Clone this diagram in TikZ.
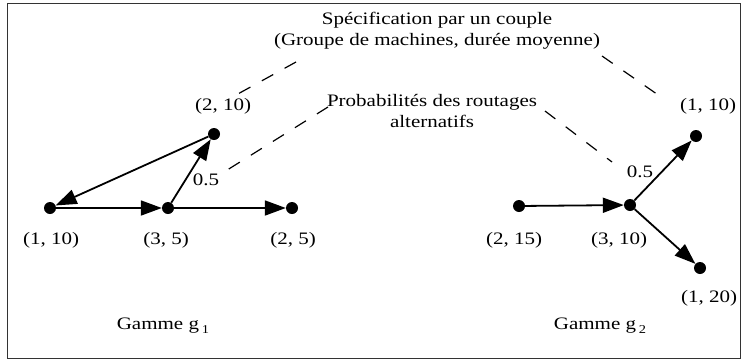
\documentclass[tikz,border=0pt]{standalone}
\usepackage{fontspec}
\setmainfont{Liberation Serif}[FakeStretch=1.2]
\usetikzlibrary{arrows.meta}
\newcommand\lowsub[1]{\,\raisebox{-0.45ex}{\fontsize{12}{12}\selectfont #1}}
\begin{document}
\begin{tikzpicture}[x=1pt,y=-1pt,
  dot/.style={circle,fill=black,inner sep=0pt,minimum size=12pt},
  lbl/.style={font=\fontsize{17.5}{21}\selectfont,inner sep=0pt},
  arr/.style={line width=1.8pt,-{Triangle[length=21pt,width=15pt]}},
  lead/.style={line width=1.2pt,dash pattern=on 13pt off 13pt}]
\useasboundingbox (0,0) rectangle (743,362);
\draw[line width=1pt,black!80] (7,3) rectangle (740,358);
% texts
\node[lbl,align=center] (spec) at (437,31) {Spécification par un couple\\(Groupe de machines, durée moyenne)};
\node[lbl,align=center] (prob) at (432,111) {Probabilités des routages\\alternatifs};
% left graph
\node[dot] (a) at (50,208) {};
\node[dot] (b) at (168,208) {};
\node[dot] (c) at (292,208) {};
\node[dot] (d) at (214,134) {};
\node[lbl] (la) at (51,240) {(1, 10)};
\node[lbl] (lb) at (166,240) {(3, 5)};
\node[lbl] (lc) at (293,240) {(2, 5)};
\node[lbl] (ld) at (223,106) {(2, 10)};
\node[lbl] (pa) at (206,180) {0.5};
\draw[arr] (a) -- (b);
\draw[arr] (b) -- (c);
\draw[arr] (b) -- (d);
\draw[arr] (d) -- (a);
% right graph
\node[dot] (e) at (519,206) {};
\node[dot] (f) at (630,205) {};
\node[dot] (g) at (696,136) {};
\node[dot] (h) at (700,268) {};
\node[lbl] (le) at (514,240) {(2, 15)};
\node[lbl] (lf) at (619,240) {(3, 10)};
\node[lbl] (lg) at (708,106) {(1, 10)};
\node[lbl] (lh) at (709,298) {(1, 20)};
\node[lbl] (pb) at (640,172) {0.5};
\draw[arr] (e) -- (f);
\draw[arr] (f) -- (g);
\draw[arr] (f) -- (h);
% leaders
\coordinate (s1) at (296,62);
\coordinate (s1e) at (236,95);
\coordinate (s2) at (602,56);
\coordinate (s2e) at (664,99);
\coordinate (p1) at (328,107);
\coordinate (p1e) at (224,172);
\coordinate (p2) at (545,111);
\coordinate (p2e) at (612,162);
\draw[lead] (s1) -- (s1e);
\draw[lead] (s2) -- (s2e);
\draw[lead] (p1) -- (p1e);
\draw[lead] (p2) -- (p2e);
% titles
\node[lbl] (g1) at (163,326) {Gamme g\lowsub{1}};
\node[lbl] (g2) at (600,326) {Gamme g\lowsub{2}};
\end{tikzpicture}
\end{document}
